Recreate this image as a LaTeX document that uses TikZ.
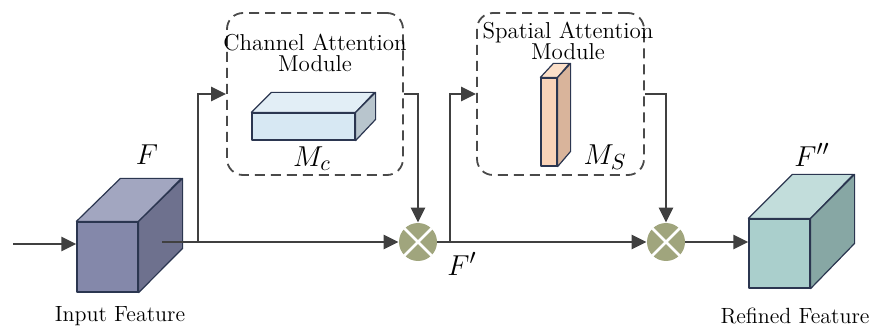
\documentclass[tikz,border=0pt]{standalone}
\usetikzlibrary{arrows.meta,calc}
\definecolor{linegray}{HTML}{404040}
\definecolor{dashgray}{HTML}{4A4A4A}
\definecolor{edgeblue}{HTML}{2B3650}
\definecolor{olivex}{HTML}{A0A57D}
% input feature block
\definecolor{infront}{HTML}{8488AA}
\definecolor{intop}{HTML}{A2A6C0}
\definecolor{inside}{HTML}{6E718E}
% channel attention map
\definecolor{cfront}{HTML}{D7E8F3}
\definecolor{ctop}{HTML}{E2EEF6}
\definecolor{cside}{HTML}{B8C5CD}
% spatial attention map
\definecolor{sfront}{HTML}{F9D3B8}
\definecolor{stop}{HTML}{FBDFC8}
\definecolor{sside}{HTML}{D9B49B}
% refined feature block
\definecolor{rfront}{HTML}{AACFCC}
\definecolor{rtop}{HTML}{C2DDDB}
\definecolor{rside}{HTML}{87A7A4}

\begin{document}
\begin{tikzpicture}[x=0.5pt,y=-0.5pt,
   conn/.style={draw=linegray, line width=1.4pt, -{Triangle[length=7.5pt,width=7pt]}},
   tap/.style={draw=linegray, line width=1.4pt},
   face/.style={draw=edgeblue, line width=0.6pt, line join=round},
   module/.style={draw=dashgray, dash pattern=on 5pt off 3pt, line width=0.9pt, rounded corners=8pt, minimum width=#1},
   mul/.style={circle, fill=olivex, minimum size=19pt, inner sep=0pt},
   xmark/.style={draw=white, line width=1.4pt},
   txt/.style={font=\fontsize{11.5}{10.5}\selectfont, align=center},
   caption/.style={font=\fontsize{11}{13}\selectfont},
   sym/.style={font=\fontsize{15.5}{15.5}\selectfont}]
   \useasboundingbox (0,0) rectangle (872,331);

   % input feature F
   \node[face, fill=infront, minimum width=30.5pt, minimum height=35pt] (in) at (107.5,257) {};
   \filldraw[face, fill=intop] (in.north west) -- ++(44,-43) -- ++(61,0) -- (in.north east) -- cycle;
   \filldraw[face, fill=inside] (in.north east) -- ++(44,-43) -- ++(0,70) -- (in.south east) -- cycle;
   \node[sym] (lF) at (147,155) {$F$};
   \node[caption] (lin) at (120,316) {Input Feature};

   % channel attention module
   \node[module=88pt, minimum height=81pt] (cam) at (315,94) {};
   \node[txt] (tcam) at (315,53) {Channel Attention\\Module};
   \node[face, fill=cfront, minimum width=51.5pt, minimum height=13.5pt] (mc) at (303.5,126.5) {};
   \filldraw[face, fill=ctop] (mc.north west) -- ++(20,-20) -- ++(103,0) -- (mc.north east) -- cycle;
   \filldraw[face, fill=cside] (mc.north east) -- ++(20,-20) -- ++(0,27) -- (mc.south east) -- cycle;
   \node[sym] (lmc) at (312,159) {$M_c$};

   % spatial attention module
   \node[module=83.5pt, minimum height=81pt] (sam) at (560.5,94) {};
   \node[txt] (tsam) at (568,41) {Spatial Attention\\Module};
   \node[face, fill=sfront, minimum width=8pt, minimum height=44pt] (ms) at (549,122) {};
   \filldraw[face, fill=stop] (ms.north west) -- ++(13,-14) -- ++(16,0) -- (ms.north east) -- cycle;
   \filldraw[face, fill=sside] (ms.north east) -- ++(13,-14) -- ++(0,88) -- (ms.south east) -- cycle;
   \node[sym] (lms) at (605,157) {$M_S$};

   % element-wise products
   \node[mul] (mul1) at (418,242) {};
   \draw[xmark] (mul1.45) -- (mul1.225) (mul1.135) -- (mul1.315);
   \node[mul] (mul2) at (666,242) {};
   \draw[xmark] (mul2.45) -- (mul2.225) (mul2.135) -- (mul2.315);
   \node[sym] (lF1) at (462,264) {$F'$};

   % refined feature F''
   \node[face, fill=rfront, minimum width=30.5pt, minimum height=34.5pt] (out) at (779.5,253.5) {};
   \filldraw[face, fill=rtop] (out.north west) -- ++(44,-44) -- ++(61,0) -- (out.north east) -- cycle;
   \filldraw[face, fill=rside] (out.north east) -- ++(44,-44) -- ++(0,69) -- (out.south east) -- cycle;
   \node[sym] (lF2) at (812,155) {$F''$};
   \node[caption] (lout) at (795,316) {Refined Feature};

   % connectors
   \coordinate (src) at (13,244);
   \coordinate (tap1) at (162,242);
   \coordinate (split1) at (198,242);
   \coordinate (split2) at (450,242);
   \draw[conn] (src) -- (src -| in.west);
   \draw[conn] (tap1) -- (mul1.west);
   \draw[conn] (split1) |- (cam.west);
   \draw[conn] (cam.east) -| (mul1.north);
   \draw[conn] (mul1.east) -- (mul2.west);
   \draw[conn] (split2) |- (sam.west);
   \draw[conn] (sam.east) -| (mul2.north);
   \draw[conn] (mul2.east) -- (mul2.east -| out.west);
\end{tikzpicture}
\end{document}
